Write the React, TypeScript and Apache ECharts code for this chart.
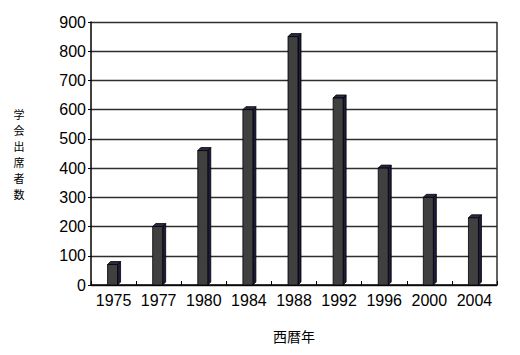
import React, { useEffect, useRef } from "react";
import * as echarts from "echarts";

const categories = ["1975", "1977", "1980", "1984", "1988", "1992", "1996", "2000", "2004"];
const attendees = [70, 200, 460, 600, 850, 640, 400, 300, 230];
const yTicks = { min: 0, max: 900, interval: 100 };
const yTitle = ["学", "会", "出", "席", "者", "数"];

export default function App() {
  const ref = useRef<HTMLDivElement>(null);
  useEffect(() => {
    if (!ref.current) return;
    const chart = echarts.init(ref.current, null, { renderer: "svg" });
    const latin = "Liberation Sans";
    const cjk = "Noto Sans CJK JP";
    chart.setOption({
      animation: false,
      backgroundColor: "#ffffff",
      grid: { left: 91, right: 23, top: 22, bottom: 70 },
      xAxis: {
        type: "category",
        data: categories,
        boundaryGap: true,
        name: "西暦年",
        nameLocation: "middle",
        nameGap: 44,
        nameTextStyle: { fontFamily: cjk, fontSize: 14, color: "#000" },
        axisLine: { lineStyle: { color: "#000", width: 1.5 } },
        axisTick: { show: true, inside: true, length: 4, lineStyle: { color: "#000" } },
        axisLabel: { interval: 0, fontFamily: latin, fontSize: 16, color: "#000", margin: 7 },
        splitLine: { show: false },
      },
      yAxis: {
        type: "value",
        min: yTicks.min,
        max: yTicks.max,
        interval: yTicks.interval,
        axisLine: { show: true, lineStyle: { color: "#000", width: 1.5 } },
        axisTick: { show: true, length: 3, lineStyle: { color: "#000" } },
        axisLabel: { fontFamily: latin, fontSize: 16, color: "#000", margin: 5 },
        splitLine: { show: true, lineStyle: { color: "#2e2e2e", width: 1.3 } },
      },
      series: [
        {
          type: "custom",
          data: attendees.map((v, i) => [i, v]),
          encode: { x: 0, y: 1 },
          renderItem: (params: any, api: any) => {
            const top = api.coord([api.value(0), api.value(1)]);
            const base = api.coord([api.value(0), 0]);
            const cx = top[0];
            const w = 10;
            const d = 3;
            const x0 = cx - 6;
            const x1 = x0 + w;
            const yT = top[1];
            const yB = base[1];
            return {
              type: "group",
              children: [
                {
                  type: "polygon",
                  shape: { points: [[x1, yT], [x1 + d, yT - d], [x1 + d, yB - d], [x1, yB]] },
                  style: { fill: "#1c1c3c", stroke: "#000", lineWidth: 0.8 },
                },
                {
                  type: "polygon",
                  shape: { points: [[x0, yT], [x0 + d, yT - d], [x1 + d, yT - d], [x1, yT]] },
                  style: { fill: "#2a2a48", stroke: "#000", lineWidth: 0.8 },
                },
                {
                  type: "rect",
                  shape: { x: x0, y: yT, width: w, height: yB - yT },
                  style: { fill: "#404040", stroke: "#000", lineWidth: 0.8 },
                },
              ],
            };
          },
        },
      ],
      graphic: [
        {
          type: "line",
          shape: { x1: 497, y1: 22, x2: 497, y2: 284 },
          style: { stroke: "#2e2e2e", lineWidth: 1.5 },
        },
        ...yTitle.map((ch, i) => ({
          type: "text",
          x: 19,
          y: 108 + i * 16,
          style: {
            text: ch,
            fontFamily: cjk,
            fontSize: 11,
            fill: "#000",
            align: "center",
            verticalAlign: "top",
          },
        })),
      ],
    });
    return () => chart.dispose();
  }, []);
  return (
    <div
      ref={ref}
      style={{ position: "absolute", left: 0, top: 0, width: 520, height: 355 }}
    />
  );
}
